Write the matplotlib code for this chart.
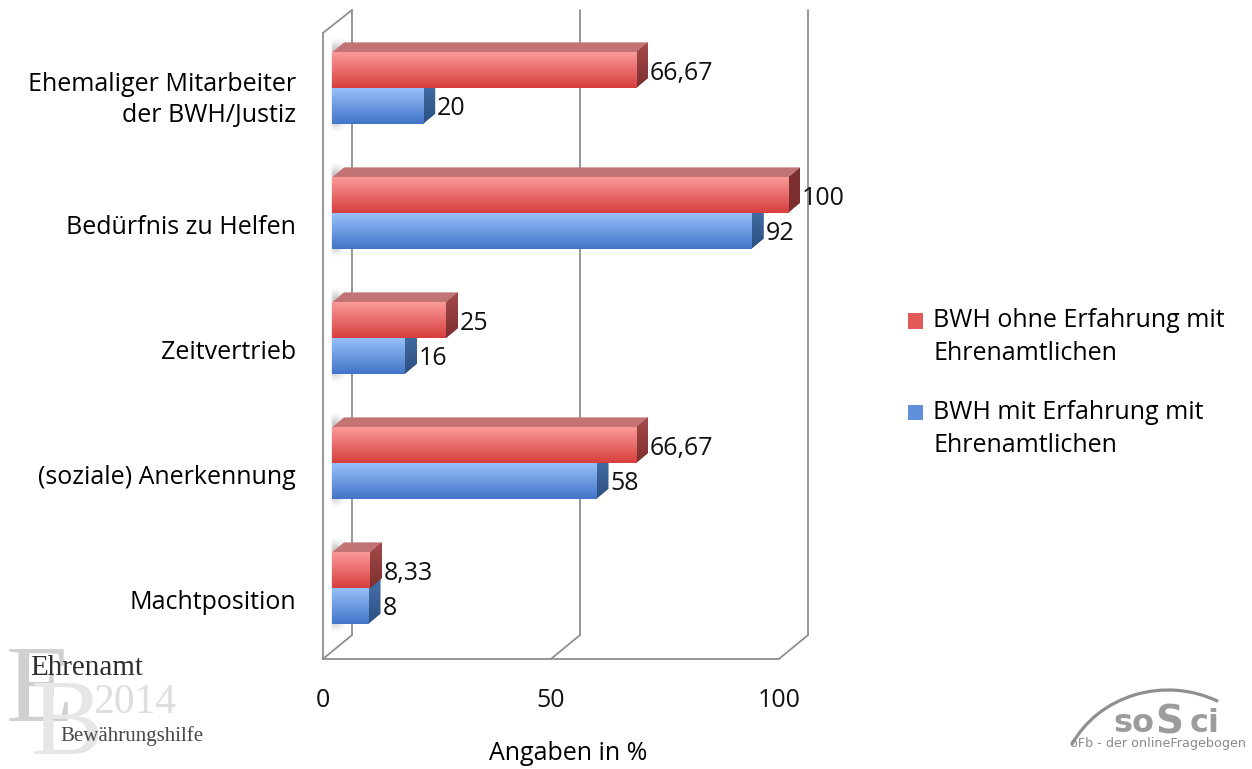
import numpy as np
import matplotlib
matplotlib.use("Agg")
import matplotlib.patches as patches
from matplotlib import pyplot as plt
from matplotlib.colors import LinearSegmentedColormap, to_rgb
from matplotlib.legend_handler import HandlerPatch

plt.rcParams["font.family"] = ["Open Sans", "DejaVu Sans"]

categories = [
    "Ehemaliger Mitarbeiter\nder BWH/Justiz",
    "Bedürfnis zu Helfen",
    "Zeitvertrieb",
    "(soziale) Anerkennung",
    "Machtposition",
]
ohne_erfahrung = [66.67, 100, 25, 66.67, 8.33]
mit_erfahrung = [20, 92, 16, 58, 8]
ohne_labels = ["66,67", "100", "25", "66,67", "8,33"]
mit_labels = ["20", "92", "16", "58", "8"]
series_names = ["BWH ohne Erfahrung mit\nEhrenamtlichen",
                "BWH mit Erfahrung mit\nEhrenamtlichen"]
x_ticks = [0, 50, 100]

# bar look: front gradient (top, bottom), top face, side face (top, bottom)
RED = dict(front=("#fb9999", "#d63f3d"), top="#c27474", side=("#a64b4b", "#7c2e2e"))
BLUE = dict(front=("#96c0f8", "#4275c9"), top="#6f94c8", side=("#4670ac", "#2c4f80"))

FS = 18
BAR_H = 0.285                  # height of one bar in category units
BAR_DX, BAR_DY = 2.63, -0.08   # bar depth (oblique)
# the box around the bars: front and back planes
FRONT_DX, BACK_DX = -2.0, 4.4
FRONT_BASE, BACK_BASE = 4.568, 4.376
FRONT_TOP, BACK_TOP = -0.44, -0.624
LINE = "#8f8f8f"


def gradient_fill(ax, patch, c_top, c_bottom, y_top, y_bottom, x0, x1):
    cmap = LinearSegmentedColormap.from_list("g", [c_top, c_bottom])
    grad = np.linspace(0, 1, 64).reshape(-1, 1)
    im = ax.imshow(grad, cmap=cmap, aspect="auto", origin="upper",
                   extent=[x0, x1, y_bottom, y_top], zorder=patch.get_zorder() + 0.1)
    im.set_clip_path(patch)


def soft_shadow(ax, x0, x1, y_top, y_bot, z):
    # blurred grey drop shadow of a bar pair on the side wall
    nx, ny = 40, 120
    xs = np.linspace(0, 1, nx)
    ys = np.linspace(0, 1, ny)
    fx = np.clip(np.minimum(xs / 0.15, (1 - xs) / 0.6), 0, 1)
    fy = np.clip(np.minimum(ys / 0.12, (1 - ys) / 0.12), 0, 1)
    alpha = np.outer(fy, fx) ** 1.5 * 0.45
    rgba = np.zeros((ny, nx, 4))
    rgba[..., :3] = to_rgb("#8a8a8a")
    rgba[..., 3] = alpha
    ax.imshow(rgba, aspect="auto", origin="upper", extent=[x0, x1, y_bot, y_top],
              zorder=z, interpolation="bilinear", clip_on=False)


def draw_bar(ax, y_top, value, style, z):
    y_bot = y_top + BAR_H
    top = patches.Polygon([(0, y_top), (value, y_top), (value + BAR_DX, y_top + BAR_DY),
                           (BAR_DX, y_top + BAR_DY)], closed=True,
                          facecolor=style["top"], edgecolor="none", zorder=z, clip_on=False)
    ax.add_patch(top)
    side = patches.Polygon([(value, y_top), (value + BAR_DX, y_top + BAR_DY),
                            (value + BAR_DX, y_bot + BAR_DY), (value, y_bot)], closed=True,
                           facecolor=style["side"][1], edgecolor="none", zorder=z, clip_on=False)
    ax.add_patch(side)
    gradient_fill(ax, side, style["side"][0], style["side"][1], y_top + BAR_DY, y_bot,
                  value, value + BAR_DX)
    front = ax.barh(y_top + BAR_H / 2, value, height=BAR_H, left=0,
                    color=style["front"][1], zorder=z + 0.5)[0]
    gradient_fill(ax, front, style["front"][0], style["front"][1], y_top, y_bot, 0, value)


def first_line_square(legend, orig_handle, xdescent, ydescent, width, height, fontsize):
    # legend square next to the first line of a two-line label
    return patches.Rectangle((-xdescent, -ydescent + 0.68 * fontsize), width, height)


fig = plt.figure(figsize=(12.52, 7.69), dpi=100)

# decoration layer in pixel coordinates (logos)
deco = fig.add_axes([0, 0, 1, 1], zorder=0)
deco.set_xlim(0, 1252)
deco.set_ylim(769, 0)
deco.axis("off")

ax = fig.add_axes([332 / 1252, 1 - 650.5 / 769, 456 / 1252, 625 / 769], zorder=1)
ax.patch.set_visible(False)
for s in ax.spines.values():
    s.set_visible(False)

# box: left wall, back wall grid and floor
wall_kw = dict(color=LINE, lw=1.3, clip_on=False, zorder=1, solid_capstyle="round")
ax.plot([FRONT_DX, FRONT_DX], [FRONT_TOP, FRONT_BASE], **wall_kw)
ax.plot([BACK_DX, BACK_DX], [BACK_TOP, BACK_BASE], **wall_kw)
ax.plot([FRONT_DX, BACK_DX], [FRONT_TOP, BACK_TOP], **wall_kw)
ax.plot([FRONT_DX, 100 + FRONT_DX], [FRONT_BASE, FRONT_BASE], **wall_kw)
for t in x_ticks:
    if t > 0:
        ax.plot([t + BACK_DX, t + BACK_DX], [BACK_TOP, BACK_BASE], **wall_kw)
    ax.plot([t + FRONT_DX, t + BACK_DX], [FRONT_BASE, BACK_BASE], **wall_kw)
    # value axis labels sit under the front edge of the floor
    ax.text(t + FRONT_DX, FRONT_BASE + 0.33, str(t), ha="center", va="center",
            fontsize=FS, color="#111111", clip_on=False)

# bars
for i in range(len(categories)):
    soft_shadow(ax, -0.5, BAR_DX + 0.6, i - BAR_H + BAR_DY - 0.05, i + BAR_H + 0.08, 1.5)
    draw_bar(ax, i, mit_erfahrung[i], BLUE, 2)
    draw_bar(ax, i - BAR_H, ohne_erfahrung[i], RED, 3)
    ax.text(ohne_erfahrung[i] + BAR_DX + 0.4, i - BAR_H / 2 + 0.03, ohne_labels[i],
            ha="left", va="center", fontsize=FS, color="#111111", zorder=5)
    ax.text(mit_erfahrung[i] + BAR_DX + 0.4, i + BAR_H / 2 + 0.02, mit_labels[i],
            ha="left", va="center", fontsize=FS, color="#111111", zorder=5)

ytick_pos = np.arange(len(categories)) + 0.09
ytick_pos[0] -= 0.04
ax.set_yticks(ytick_pos, labels=categories, fontsize=FS)
ax.tick_params(axis="y", length=0, pad=26)
for lab in ax.get_yticklabels():
    lab.set_linespacing(1.3)
ax.set_xticks([])
ax.set_xlim(0, 100)
ax.set_ylim(len(categories) - 0.5, -0.5)
ax.set_xlabel("Angaben in %", fontsize=FS)
ax.xaxis.set_label_coords(0.5175, -0.145)

# legend
handles = [patches.Patch(facecolor="#e15a58"), patches.Patch(facecolor="#5f8fdb")]
leg = fig.legend(handles, series_names, loc="center left",
                 bbox_to_anchor=(885 / 1252, 1 - 383 / 769),
                 frameon=False, fontsize=FS, handlelength=0.6, handleheight=0.6,
                 handletextpad=0.42, labelspacing=1.35,
                 handler_map={patches.Patch: HandlerPatch(patch_func=first_line_square)})
for t in leg.get_texts():
    t.set_linespacing(1.42)

# Ehrenamt Bewährungshilfe mark
serif = ["Liberation Serif", "DejaVu Serif"]
deco.text(6, 721, "E", fontsize=80, color="#d0d0d0", family=serif, va="baseline")
deco.text(31, 754, "B", fontsize=78, color="#e6e6e6", family=serif, va="baseline")
deco.text(30, 675, "Ehrenamt", fontsize=21, color="#2e2e2e", family=serif, va="baseline")
deco.text(93, 713, "2014", fontsize=30, color="#dedede", family=serif, va="baseline")
deco.text(60, 741, "Bewährungshilfe", fontsize=15, color="#484848", family=serif,
          va="baseline")

# soSci mark
sans = ["DejaVu Sans"]
deco.add_patch(patches.Arc((1168, 790), 216, 200, theta1=205, theta2=299.5,
                           color="#8f8f8f", lw=2.3))
deco.text(1113, 732, "so", fontsize=23, fontweight="bold", color="#9c9c9c",
          family=sans, va="baseline")
deco.text(1155, 733, "S", fontsize=28, fontweight="bold", color="#9c9c9c",
          family=sans, va="baseline")
deco.text(1190, 732, "ci", fontsize=23, fontweight="bold", color="#9c9c9c",
          family=sans, va="baseline")
deco.text(1070, 747, "oFb - der onlineFragebogen", fontsize=9.2, color="#8a8a8a",
          family=sans, va="baseline")

fig.savefig("out.png", dpi=100)
plt.close()
